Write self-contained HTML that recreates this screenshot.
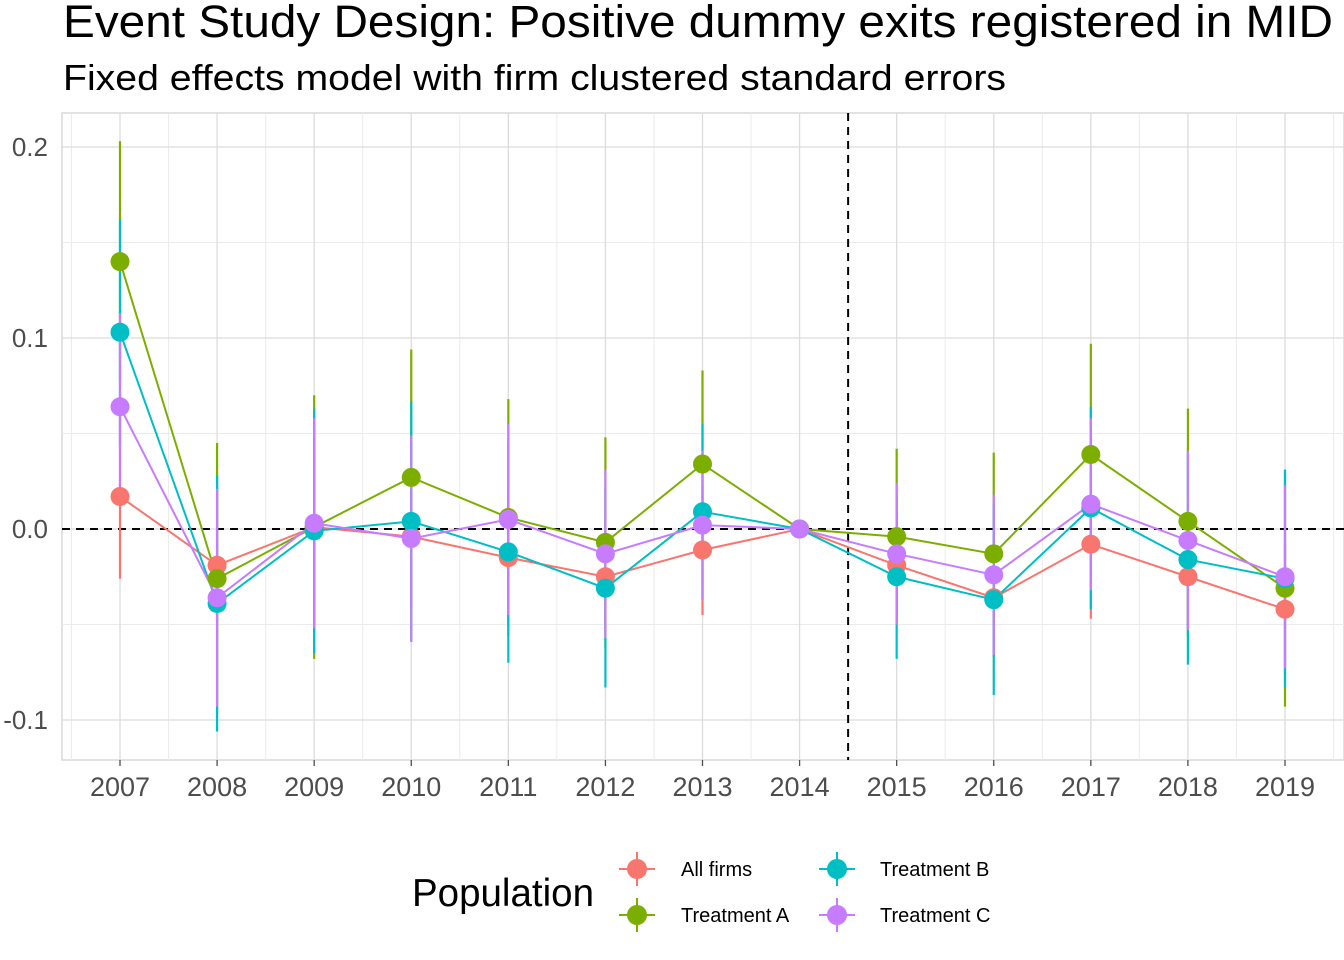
<!DOCTYPE html>
<html><head><meta charset="utf-8">
<style>
html,body{margin:0;padding:0;background:#fff;}
svg{display:block;font-family:"Liberation Sans",Arial,sans-serif;}
</style></head>
<body>
<svg id="chart" width="1344" height="960" viewBox="0 0 1344 960" xmlns="http://www.w3.org/2000/svg">
<text x="63" y="37" font-size="45" textLength="1270" lengthAdjust="spacingAndGlyphs" fill="#000">Event Study Design: Positive dummy exits registered in MID</text>
<text x="63" y="90" font-size="36" textLength="943" lengthAdjust="spacingAndGlyphs" fill="#000">Fixed effects model with firm clustered standard errors</text>
<g id="grid"></g>
<g id="refs"></g>
<g id="series"></g>
<g id="axes"></g>
<g id="legend">
<text x="412" y="906" font-size="38.5" textLength="182" lengthAdjust="spacingAndGlyphs" fill="#000">Population</text>
</g>
</svg>
<script>
const years = [2007,2008,2009,2010,2011,2012,2013,2014,2015,2016,2017,2018,2019];
const seriesNames = ["All firms","Treatment A","Treatment B","Treatment C"];
const allFirms = [0.017,-0.019,0.001,-0.004,-0.015,-0.025,-0.011,0,-0.019,-0.036,-0.008,-0.025,-0.042];
const treatA = [0.140,-0.026,0.001,0.027,0.006,-0.007,0.034,0,-0.004,-0.013,0.039,0.004,-0.031];
const treatB = [0.103,-0.039,-0.001,0.004,-0.012,-0.031,0.009,0,-0.025,-0.037,0.011,-0.016,-0.026];
const treatC = [0.064,-0.036,0.003,-0.005,0.005,-0.013,0.002,0,-0.013,-0.024,0.013,-0.006,-0.025];
const ciAll = [0.043,0.039,0.038,0.037,0.034,0.030,0.034,0,0.029,0.031,0.039,0.032,0.034];
const ciA = [0.063,0.071,0.069,0.067,0.062,0.055,0.049,0,0.046,0.053,0.058,0.059,0.062];
const ciB = [0.059,0.067,0.064,0.063,0.058,0.052,0.046,0,0.043,0.050,0.053,0.055,0.057];
const ciC = [0.049,0.057,0.055,0.054,0.050,0.044,0.039,0,0.037,0.042,0.045,0.047,0.048];
const yTicks = [0.2,0.1,0.0,-0.1];
const yTickLabels = ["0.2","0.1","0.0","-0.1"];
const yMinor = [0.15,0.05,-0.05];
const treatmentYear = 2014.5;

const NS="http://www.w3.org/2000/svg";
const P={l:62,r:1344,t:113,b:760};
function xs(yr){return 120+(yr-2007)*(1285-120)/12;}
function ys(v){return 529-v*1910;}
function mk(tag,attrs,parent){const e=document.createElementNS(NS,tag);for(const k in attrs)e.setAttribute(k,attrs[k]);parent.appendChild(e);return e;}
const grid=document.getElementById('grid'),refs=document.getElementById('refs'),ser=document.getElementById('series'),axes=document.getElementById('axes'),leg=document.getElementById('legend');

const bg=mk('rect',{x:P.l,y:P.t,width:P.r-P.l,height:P.b-P.t,fill:'#fff',stroke:'#d9d9d9','stroke-width':1.5},grid);


yMinor.forEach(v=>{const l=mk('line',{x1:P.l,x2:P.r,y1:ys(v),y2:ys(v),stroke:'#ebebeb','stroke-width':1},grid);

});
for(let i=0;i<years.length+1;i++){const x=xs(years[0]-0.5+i);const l=mk('line',{x1:x,x2:x,y1:P.t,y2:P.b,stroke:'#ebebeb','stroke-width':1},grid);

}
yTicks.forEach((v,i)=>{const l=mk('line',{x1:P.l,x2:P.r,y1:ys(v),y2:ys(v),stroke:'#dcdcdc','stroke-width':1.3},grid);


const t=mk('text',{x:48,y:ys(v)+9,'font-size':26,fill:'#4d4d4d','text-anchor':'end'},axes);t.textContent=yTickLabels[i];

});
years.forEach(yr=>{const l=mk('line',{x1:xs(yr),x2:xs(yr),y1:P.t,y2:P.b,stroke:'#dcdcdc','stroke-width':1.3},grid);


const tk=mk('line',{x1:xs(yr),x2:xs(yr),y1:P.b,y2:P.b+6,stroke:'#4d4d4d','stroke-width':1.3},axes);


const t=mk('text',{x:xs(yr),y:796,'font-size':27,fill:'#4d4d4d','text-anchor':'middle'},axes);t.textContent=yr;

});

const h0=mk('line',{x1:P.l,x2:P.r,y1:ys(0),y2:ys(0),stroke:'#000','stroke-width':2,'stroke-dasharray':'8,6'},refs);


const vt=mk('line',{x1:xs(treatmentYear),x2:xs(treatmentYear),y1:P.t,y2:P.b,stroke:'#000','stroke-width':2,'stroke-dasharray':'8,6'},refs);



const colors=["#F8766D","#7CAE00","#00BFC4","#C77CFF"];
const vals=[allFirms,treatA,treatB,treatC];
const cis=[ciAll,ciA,ciB,ciC];
const keys=["all-firms","treatment-a","treatment-b","treatment-c"];
vals.forEach((arr,s)=>{const g=mk('g',{},ser);


arr.forEach((v,i)=>{const e=mk('line',{x1:xs(years[i]),x2:xs(years[i]),y1:ys(v+cis[s][i]),y2:ys(v-cis[s][i]),stroke:colors[s],'stroke-width':2.2},g);

});});
vals.forEach((arr,s)=>{const pl=mk('polyline',{points:arr.map((v,i)=>xs(years[i])+','+ys(v)).join(' '),fill:'none',stroke:colors[s],'stroke-width':2},ser);

});
vals.forEach((arr,s)=>{arr.forEach((v,i)=>{const c=mk('circle',{cx:xs(years[i]),cy:ys(v),r:9.5,fill:colors[s]},ser);

});});

const lpos=[[637,869,681],[637,915,681],[837,869,880],[837,915,880]];
seriesNames.forEach((n,s)=>{const [kx,ky,tx]=lpos[s];const g=mk('g',{},leg);


mk('line',{x1:kx-18,x2:kx+18,y1:ky,y2:ky,stroke:colors[s],'stroke-width':2},g);
mk('line',{x1:kx,x2:kx,y1:ky-17,y2:ky+17,stroke:colors[s],'stroke-width':2},g);
mk('circle',{cx:kx,cy:ky,r:10,fill:colors[s]},g);
const t=mk('text',{x:tx,y:ky+7,'font-size':20,fill:'#000'},g);t.textContent=n;});
</script>
</body></html>
